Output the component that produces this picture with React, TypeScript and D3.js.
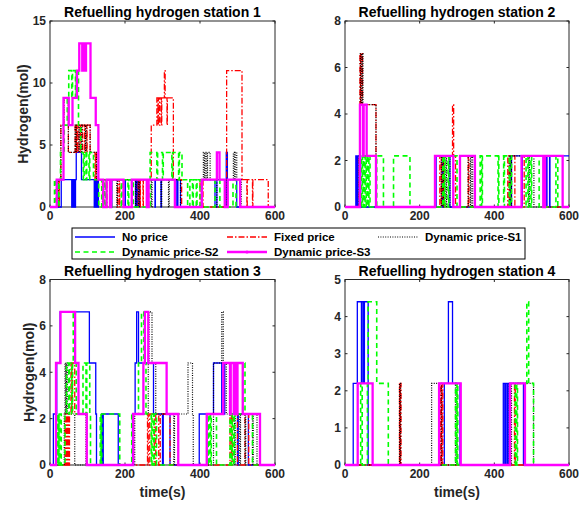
import React from "react";
import * as d3 from "d3";

type Pt = [number, number];

// ---- Station 1 ----
const st1NoPrice: Pt[] = [[0,0],[30,2.2],[58,0],[59,2.2],[61,0],[62,2.2],[64,0],[65,2.2],[67,0],[68,2.2],[70,4.4],[84,2.2],[118,0],[119,2.2],[121,0],[122,2.2],[124,0],[125,2.2],[128,0],[129,2.2],[160,0],[162,2.2],[164,0],[165,2.2],[200,0],[201,2.2],[228,0],[229,2.2],[232,0],[233,2.2],[238,0],[239,2.2],[280,0],[281,2.2],[296,0],[297,2.2],[335,0],[336,2.2],[340,0],[341,2.2],[348,0],[404,2.2],[440,0],[445,2.2],[468,0],[470,4.4],[473,2.2],[498,0],[600,0]];
const st1Fixed: Pt[] = [[0,0],[20,2.2],[24,0],[25,2.2],[29,6.6],[37,8.8],[49,4.4],[67,6.6],[70,4.4],[71,6.6],[74,4.4],[75,6.6],[80,4.4],[81,6.6],[86,4.4],[87,6.6],[92,4.4],[93,6.6],[98,4.4],[99,6.6],[107,4.4],[120,2.2],[122,4.4],[124,2.2],[140,0],[142,2.2],[150,0],[152,2.2],[160,0],[161,2.2],[180,0],[181,2.2],[185,0],[186,2.2],[235,0],[236,2.2],[240,0],[241,2.2],[248,0],[249,2.2],[260,0],[262,2.2],[270,6.6],[285,8.8],[288,6.6],[289,8.8],[292,6.6],[293,8.8],[297,6.6],[298,8.8],[305,11],[307,8.8],[312,6.6],[313,8.8],[329,2.2],[351,0],[400,2.2],[408,0],[468,2.2],[471,11],[512,2.2],[525,0],[526,2.2],[540,0],[541,2.2],[582,0],[600,0]];
const st1DynS1: Pt[] = [[0,0],[22,2.2],[29,6.6],[37,8.8],[49,4.4],[67,6.6],[69,4.4],[70,6.6],[77,4.4],[78,6.6],[84,4.4],[85,6.6],[95,4.4],[96,6.6],[107,4.4],[124,2.2],[140,0],[143,2.2],[178,0],[180,2.2],[228,0],[230,2.2],[236,0],[238,2.2],[270,0],[272,2.2],[296,0],[298,2.2],[316,0],[318,2.2],[348,0],[404,2.2],[409,4.4],[412,2.2],[414,4.4],[418,2.2],[420,4.4],[427,2.2],[445,0],[470,2.2],[489,4.4],[492,2.2],[494,4.4],[498,2.2],[510,0],[600,0]];
const st1DynS2: Pt[] = [[0,0],[12,2.2],[16,0],[18,2.2],[22,0],[24,2.2],[28,4.4],[38,6.6],[46,8.8],[50,11],[58,8.8],[60,11],[68,8.8],[70,11],[76,6.6],[82,4.4],[89,2.2],[91,4.4],[96,2.2],[98,4.4],[104,2.2],[106,4.4],[116,2.2],[130,0],[138,2.2],[146,0],[148,2.2],[162,0],[164,2.2],[190,0],[192,2.2],[208,0],[210,2.2],[222,0],[267,4.4],[285,2.2],[287,4.4],[300,2.2],[302,4.4],[325,2.2],[327,4.4],[343,2.2],[345,4.4],[352,2.2],[367,0],[373,2.2],[380,0],[382,2.2],[390,0],[392,2.2],[400,0],[440,2.2],[453,0],[488,2.2],[496,0],[600,0]];
const st1DynS3: Pt[] = [[0,0],[18,2.2],[36,8.8],[50,6.6],[60,8.8],[72,11],[78,13.2],[86,11],[88,13.2],[94,11],[96,13.2],[108,8.8],[122,6.6],[129,2.2],[142,0],[151,2.2],[160,0],[163,2.2],[196,0],[218,2.2],[258,0],[263,2.2],[333,0],[405,2.2],[445,4.4],[452,2.2],[466,0],[474,2.2],[507,0],[600,0]];

// ---- Station 2 ----
const st2NoPrice: Pt[] = [[0,0],[29,2.2],[31,0],[32,2.2],[34,0],[35,2.2],[42,0],[241,2.2],[243,0],[244,2.2],[260,0],[262,2.2],[281,0],[443,2.2],[445,0],[446,2.2],[473,0],[475,2.2],[540,0],[541,2.2],[548,0],[549,2.2],[600,2.2]];
const st2Fixed: Pt[] = [[0,0],[38,2.2],[40,6.6],[42,4.4],[43,6.6],[47,4.4],[83,0],[254,2.2],[258,0],[260,2.2],[264,0],[266,2.2],[288,4.4],[291,2.2],[296,0],[330,2.2],[332,0],[436,2.2],[440,0],[442,2.2],[455,0],[480,2.2],[535,0],[600,0]];
const st2DynS1: Pt[] = [[0,0],[38,2.2],[41,6.6],[44,4.4],[46,6.6],[48,4.4],[83,0],[258,2.2],[262,0],[264,2.2],[270,0],[272,2.2],[281,0],[330,2.2],[336,0],[338,2.2],[342,0],[440,2.2],[444,0],[446,2.2],[492,0],[494,2.2],[506,0],[600,0]];
const st2DynS2: Pt[] = [[0,0],[44,2.2],[47,0],[49,2.2],[52,0],[54,2.2],[57,0],[59,2.2],[62,0],[64,2.2],[67,0],[85,2.2],[103,0],[130,2.2],[174,0],[262,2.2],[266,0],[268,2.2],[276,0],[278,2.2],[300,0],[362,2.2],[366,0],[368,2.2],[410,0],[412,2.2],[425,0],[427,2.2],[440,0],[442,2.2],[446,0],[485,2.2],[490,0],[492,2.2],[498,0],[500,2.2],[520,0],[565,2.2],[570,0],[600,0]];
const st2DynS3: Pt[] = [[0,0],[40,4.4],[48,2.2],[50,4.4],[58,2.2],[83,0],[241,2.2],[290,0],[308,2.2],[348,0],[473,2.2],[531,0],[536,2.2],[583,0],[600,0]];

// ---- Station 3 ----
const st3NoPrice: Pt[] = [[0,0],[9,2.2],[18,4.4],[27,6.6],[105,4.4],[122,2.2],[124,0],[138,2.2],[140,0],[142,2.2],[182,0],[220,2.2],[227,4.4],[231,6.6],[236,4.4],[276,2.2],[300,0],[302,2.2],[320,0],[398,2.2],[436,4.4],[458,2.2],[466,4.4],[480,2.2],[500,0],[502,2.2],[529,0],[600,0]];
const st3Fixed: Pt[] = [[0,0],[40,2.2],[42,0],[44,2.2],[46,0],[48,2.2],[50,0],[52,2.2],[56,4.4],[58,2.2],[60,4.4],[66,2.2],[98,0],[260,2.2],[262,0],[266,2.2],[278,0],[282,2.2],[290,0],[294,2.2],[320,0],[480,2.2],[484,0],[486,2.2],[500,0],[520,2.2],[530,0],[600,0]];
const st3DynS1: Pt[] = [[0,0],[38,2.2],[40,4.4],[42,2.2],[44,4.4],[46,2.2],[66,0],[96,2.2],[98,0],[222,2.2],[224,0],[226,2.2],[262,4.4],[264,6.6],[272,4.4],[282,2.2],[330,0],[332,2.2],[368,4.4],[380,2.2],[382,0],[436,4.4],[458,6.6],[462,4.4],[470,2.2],[492,0],[494,2.2],[506,0],[508,2.2],[520,0],[522,2.2],[540,0],[542,2.2],[552,0],[600,0]];
const st3DynS2: Pt[] = [[0,0],[18,2.2],[20,0],[22,2.2],[24,0],[26,2.2],[30,0],[40,2.2],[44,4.4],[50,2.2],[52,4.4],[58,2.2],[60,4.4],[62,6.6],[66,4.4],[70,2.2],[88,4.4],[96,2.2],[98,4.4],[106,2.2],[108,0],[134,2.2],[136,0],[138,2.2],[186,0],[218,2.2],[236,4.4],[244,6.6],[250,4.4],[256,2.2],[270,0],[272,2.2],[276,0],[278,2.2],[284,0],[418,2.2],[422,0],[424,2.2],[428,0],[430,2.2],[444,0],[480,2.2],[484,0],[486,2.2],[490,0],[492,2.2],[514,4.4],[520,2.2],[540,0],[600,0]];
const st3DynS3: Pt[] = [[0,0],[16,4.4],[28,6.6],[67,4.4],[76,2.2],[98,0],[222,2.2],[249,4.4],[253,6.6],[262,4.4],[311,2.2],[342,0],[418,2.2],[462,4.4],[480,2.2],[482,4.4],[490,2.2],[492,4.4],[498,2.2],[500,4.4],[514,2.2],[560,0],[600,0]];

// ---- Station 4 ----
const st4NoPrice: Pt[] = [[0,0],[22,2.2],[33,4.4],[44,2.2],[46,4.4],[50,2.2],[52,4.4],[62,0],[266,2.2],[277,4.4],[288,2.2],[308,0],[424,2.2],[428,0],[430,2.2],[434,0],[436,2.2],[440,0],[442,2.2],[478,0],[600,0]];
const st4Fixed: Pt[] = [[0,0],[146,2.2],[147,0],[148,2.2],[150,0],[256,2.2],[258,0],[260,2.2],[262,0],[454,2.2],[456,0],[600,0]];
const st4DynS1: Pt[] = [[0,0],[146,2.2],[149,0],[232,2.2],[258,0],[296,2.2],[300,0],[440,2.2],[444,0],[446,2.2],[505,0],[600,0]];
const st4DynS2: Pt[] = [[0,0],[42,2.2],[46,0],[60,2.2],[62,4.4],[85,2.2],[116,0],[296,2.2],[298,0],[300,2.2],[302,0],[456,2.2],[460,0],[462,2.2],[487,4.4],[492,2.2],[505,0],[600,0]];
const st4DynS3: Pt[] = [[0,0],[34,2.2],[74,0],[252,2.2],[310,0],[442,2.2],[482,0],[600,0]];

const seriesNames = ["No price", "Fixed price", "Dynamic price-S1", "Dynamic price-S2", "Dynamic price-S3"];
const xTicks = [0, 200, 400, 600];
const yTicks1 = [0, 5, 10, 15];
const yTicks2 = [0, 2, 4, 6, 8];
const yTicks3 = [0, 2, 4, 6, 8];
const yTicks4 = [0, 1, 2, 3, 4, 5];

const styles = [
  { color: "#0000ff", width: 1.3, dash: "" },
  { color: "#ff0000", width: 1.3, dash: "6,2,1.5,2" },
  { color: "#000000", width: 1.2, dash: "1,1.4" },
  { color: "#00ff00", width: 1.6, dash: "5,3.5" },
  { color: "#ff00ff", width: 2.3, dash: "" },
];

const FONT = "'Liberation Sans', Arial, sans-serif";
const AX = "#262626";

const panels = [
  { title: "Refuelling hydrogen station 1", data: [st1NoPrice, st1Fixed, st1DynS1, st1DynS2, st1DynS3], yTicks: yTicks1, L: 50, R: 275, T: 21, B: 207, ylab: true, xlab: false, ylabX: 22.5 },
  { title: "Refuelling hydrogen station 2", data: [st2NoPrice, st2Fixed, st2DynS1, st2DynS2, st2DynS3], yTicks: yTicks2, L: 345, R: 569, T: 21, B: 207, ylab: false, xlab: false, ylabX: 0 },
  { title: "Refuelling hydrogen station 3", data: [st3NoPrice, st3Fixed, st3DynS1, st3DynS2, st3DynS3], yTicks: yTicks3, L: 50, R: 275, T: 279.5, B: 465, ylab: true, xlab: true, ylabX: 29 },
  { title: "Refuelling hydrogen station 4", data: [st4NoPrice, st4Fixed, st4DynS1, st4DynS2, st4DynS3], yTicks: yTicks4, L: 345, R: 569, T: 279.5, B: 465, ylab: false, xlab: true, ylabX: 0 },
];

function Panel({ p }: { p: (typeof panels)[number] }) {
  const x = d3.scaleLinear().domain([0, 600]).range([p.L, p.R]);
  const yMax = p.yTicks[p.yTicks.length - 1];
  const y = d3.scaleLinear().domain([0, yMax]).range([p.B, p.T]);
  const line = d3.line<Pt>().x(d => x(d[0])).y(d => y(d[1])).curve(d3.curveStepAfter);
  const tl = 2.5;
  return (
    <g>
      <rect x={p.L} y={p.T} width={p.R - p.L} height={p.B - p.T} fill="white" stroke={AX} strokeWidth={1} />
      {xTicks.map(t => (
        <g key={"xt" + t}>
          <line x1={x(t)} x2={x(t)} y1={p.B} y2={p.B - tl} stroke={AX} />
          <line x1={x(t)} x2={x(t)} y1={p.T} y2={p.T + tl} stroke={AX} />
          <text x={x(t)} y={p.B + 13} textAnchor="middle" fontSize={12} fontWeight="bold" fontFamily={FONT} fill={AX}>{t}</text>
        </g>
      ))}
      {p.yTicks.map(t => (
        <g key={"yt" + t}>
          <line x1={p.L} x2={p.L + tl} y1={y(t)} y2={y(t)} stroke={AX} />
          <line x1={p.R} x2={p.R - tl} y1={y(t)} y2={y(t)} stroke={AX} />
          <text x={p.L - 4} y={y(t) + 4.3} textAnchor="end" fontSize={12} fontWeight="bold" fontFamily={FONT} fill={AX}>{t}</text>
        </g>
      ))}
      {p.data.map((d, i) => (
        <path key={i} d={line(d) || ""} fill="none" stroke={styles[i].color} strokeWidth={styles[i].width}
          strokeDasharray={styles[i].dash || undefined} />
      ))}
      <text x={(p.L + p.R) / 2} y={p.T - 4} textAnchor="middle" fontSize={14} fontWeight="bold" fontFamily={FONT} fill="#000">{p.title}</text>
      {p.ylab && (
        <text transform={`translate(${p.ylabX + 5},${(p.T + p.B) / 2}) rotate(-90)`} textAnchor="middle" fontSize={14} fontWeight="bold" fontFamily={FONT} fill={AX}>Hydrogen(mol)</text>
      )}
      {p.xlab && (
        <text x={(p.L + p.R) / 2} y={497} textAnchor="middle" fontSize={14} fontWeight="bold" fontFamily={FONT} fill={AX}>time(s)</text>
      )}
    </g>
  );
}

function Legend() {
  const bx = 72, by = 228, bw = 453, bh = 31;
  const cols = [75, 227, 378];
  const rows = [237, 252];
  const pos = [[0, 0], [1, 0], [2, 0], [0, 1], [1, 1]];
  return (
    <g>
      <rect x={bx} y={by} width={bw} height={bh} fill="white" stroke="#000" strokeWidth={1} />
      {seriesNames.map((n, i) => {
        const cx = cols[pos[i][0]];
        const cy = rows[pos[i][1]];
        const s = styles[i];
        return (
          <g key={n}>
            <line x1={cx} x2={cx + 40} y1={cy} y2={cy} stroke={s.color} strokeWidth={s.width} strokeDasharray={s.dash || undefined} />
            {i === 4 && <circle cx={cx + 20} cy={cy} r={1.6} fill={s.color} />}
            <text x={cx + 47} y={cy + 4} fontSize={11.5} fontWeight="bold" fontFamily={FONT} fill="#000">{n}</text>
          </g>
        );
      })}
    </g>
  );
}

export default function App() {
  return (
    <svg width={588} height={506} style={{ position: "absolute", left: 0, top: 0, background: "white" }}>
      <rect x={0} y={0} width={588} height={506} fill="white" />
      {panels.map(p => <Panel key={p.title} p={p} />)}
      <Legend />
    </svg>
  );
}
